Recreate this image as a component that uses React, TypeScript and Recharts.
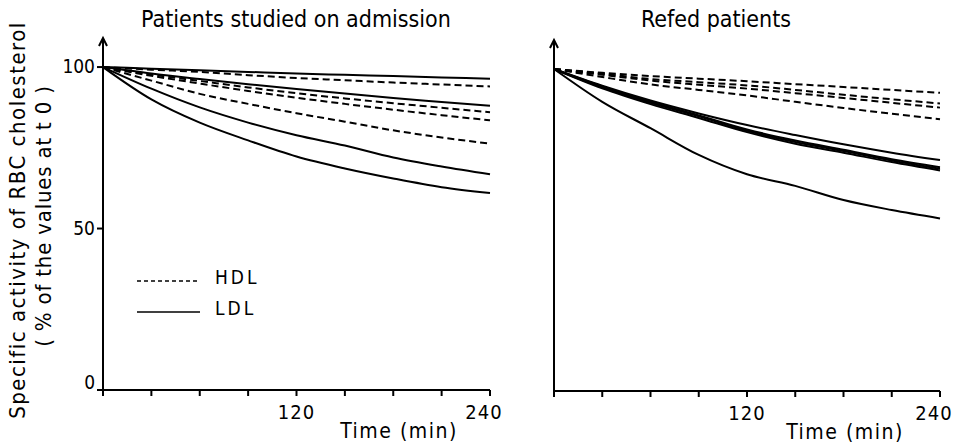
import { LineChart, Line, XAxis, YAxis, ReferenceDot } from "recharts";

// sampling times (min)
const times = [0, 30, 60, 90, 120, 150, 180, 210, 240];
const xTicks = [0, 30, 60, 90, 120, 150, 180, 210, 240];
const xLabelled = [120, 240];
const yTicks = [0, 50, 100];

// % of value at t0 — patients studied on admission
const admissionHdl = [
  [100, 99.2, 98.5, 97.5, 96.6, 95.9, 95.2, 94.6, 94],
  [100, 97.7, 95.7, 93.7, 91.9, 90.3, 88.8, 87.4, 86],
  [100, 97.3, 94.9, 92.6, 90.5, 88.6, 86.8, 85.1, 83.5],
  [100, 95.8, 91.7, 88.6, 85.7, 83.1, 80.4, 78.2, 76.3],
];
const admissionLdl = [
  [100, 99.5, 99, 98.5, 98, 97.6, 97.2, 96.8, 96.4],
  [100, 98, 96.3, 94.7, 93.2, 91.8, 90.4, 89.2, 88],
  [100, 93.3, 87.5, 82.8, 78.9, 75.7, 72, 69.2, 66.8],
  [100, 90, 82.8, 77.3, 72.3, 68.6, 65.5, 62.8, 61],
];

// refed patients
const refedHdl = [
  [100, 98.8, 97.8, 97, 96.2, 95.3, 94.4, 93.5, 92.6],
  [100, 98.5, 96.9, 95.9, 94.9, 93.5, 92, 90.6, 89.3],
  [100, 98.2, 96.4, 95.1, 93.9, 92.5, 91, 89.5, 88],
  [100, 97.5, 95.2, 93.5, 91.8, 89.8, 87.9, 86.1, 84.4],
];
const refedLdl = [
  [100, 94.8, 90.2, 86.2, 82.6, 79.5, 76.6, 74, 71.7],
  [100, 94.6, 89.8, 85.6, 81.2, 77.8, 74.9, 72, 69.5],
  [100, 94.3, 89.5, 85.3, 80.8, 77.3, 74.5, 71.6, 69],
  [100, 94, 89.1, 84.8, 80.4, 76.8, 74, 71.1, 68.5],
  [100, 89.8, 81.6, 73.3, 67.3, 63.7, 59.3, 56.2, 53.6],
];

const FONT = "'DejaVu Sans Condensed', 'DejaVu Sans', sans-serif";

function toRows(hdl: number[][], ldl: number[][]) {
  return times.map((t, i) => {
    const row: Record<string, number> = { t };
    hdl.forEach((s, k) => (row[`hdl${k}`] = s[i]));
    ldl.forEach((s, k) => (row[`ldl${k}`] = s[i]));
    return row;
  });
}

const XTick = (props: any) => {
  const { x, y, payload } = props;
  if (!xLabelled.includes(payload.value)) return null;
  const dx = payload.value === 240 ? -6 : 0;
  return (
    <text x={x + dx} y={y + 21} textAnchor="middle" fontSize={20} fontFamily={FONT} fill="#000" letterSpacing={1}>
      {payload.value}
    </text>
  );
};

const YTick = (props: any) => {
  const { x, y, payload } = props;
  return (
    <text x={x} y={y + (payload.value === 0 ? -1 : 6)} textAnchor="end" fontSize={19} fontFamily={FONT} fill="#000">
      {payload.value}
    </text>
  );
};

// open arrow head at the top of the y axis
const Arrow = (props: any) => {
  const { cx, cy } = props;
  return <path d={`M${cx - 4},${cy + 8} L${cx},${cy} L${cx + 4},${cy + 8}`} stroke="#000" strokeWidth={2} fill="none" />;
};

function Panel({ hdl, ldl, marginLeft, marginRight, marginTop, marginBottom, showYLabels }: {
  hdl: number[][]; ldl: number[][]; marginLeft: number; marginRight: number; marginTop: number; marginBottom: number; showYLabels: boolean;
}) {
  const rows = toRows(hdl, ldl);
  return (
    <LineChart width={520} height={444} data={rows} margin={{ top: marginTop, right: marginRight, bottom: marginBottom, left: marginLeft }}>
      <XAxis
        dataKey="t"
        type="number"
        domain={[0, 240]}
        ticks={xTicks}
        interval={0}
        height={30}
        tick={<XTick />}
        tickSize={6}
        axisLine={{ stroke: "#000", strokeWidth: 2 }}
        tickLine={{ stroke: "#000", strokeWidth: 2 }}
      />
      <YAxis
        type="number"
        domain={[0, 109]}
        ticks={yTicks}
        allowDataOverflow
        width={40}
        tick={showYLabels ? <YTick /> : false}
        tickSize={6}
        axisLine={{ stroke: "#000", strokeWidth: 2 }}
        tickLine={{ stroke: "#000", strokeWidth: 2 }}
      />
      <ReferenceDot x={0} y={109} r={0} ifOverflow="visible" shape={<Arrow />} />
      {hdl.map((_, k) => (
        <Line key={`h${k}`} dataKey={`hdl${k}`} type="monotone" stroke="#000" strokeWidth={2}
          strokeDasharray="7 4" dot={false} isAnimationActive={false} />
      ))}
      {ldl.map((_, k) => (
        <Line key={`l${k}`} dataKey={`ldl${k}`} type="monotone" stroke="#000" strokeWidth={2}
          dot={false} isAnimationActive={false} />
      ))}
    </LineChart>
  );
}

export default function App() {
  return (
    <div style={{ position: "absolute", left: 0, top: 0, width: 965, height: 444, background: "#fff" }}>
      <div style={{ position: "absolute", left: 0, top: 0 }}>
        <Panel hdl={admissionHdl} ldl={admissionLdl} marginLeft={63} marginRight={30} marginTop={38} marginBottom={24} showYLabels />
      </div>
      <div style={{ position: "absolute", left: 440, top: 0 }}>
        <Panel hdl={refedHdl} ldl={refedLdl} marginLeft={74} marginRight={20} marginTop={40} marginBottom={23} showYLabels={false} />
      </div>
      <svg width={965} height={444} style={{ position: "absolute", left: 0, top: 0, pointerEvents: "none" }}
        fontFamily={FONT} fill="#000">
        <text x={296} y={27} textAnchor="middle" fontSize={23}>Patients studied on admission</text>
        <text x={716} y={27} textAnchor="middle" fontSize={23}>Refed patients</text>
        <text transform="translate(25,220) rotate(-90)" textAnchor="middle" fontSize={22} letterSpacing={1.5}>
          Specific activity of RBC cholesterol
        </text>
        <text transform="translate(51,216) rotate(-90)" textAnchor="middle" fontSize={22} letterSpacing={0.8}>
          ( % of the values at t 0 )
        </text>
        <line x1={137} y1={281} x2={198} y2={281} stroke="#000" strokeWidth={1.5} strokeDasharray="4 3" />
        <text x={215} y={284} fontSize={19} letterSpacing={3}>HDL</text>
        <line x1={137} y1={312} x2={200} y2={312} stroke="#000" strokeWidth={1.5} />
        <text x={215} y={315} fontSize={19} letterSpacing={3}>LDL</text>
        <text x={399} y={438} textAnchor="middle" fontSize={21} letterSpacing={1.5}>Time (min)</text>
        <text x={845} y={439} textAnchor="middle" fontSize={21} letterSpacing={1.5}>Time (min)</text>
      </svg>
    </div>
  );
}
